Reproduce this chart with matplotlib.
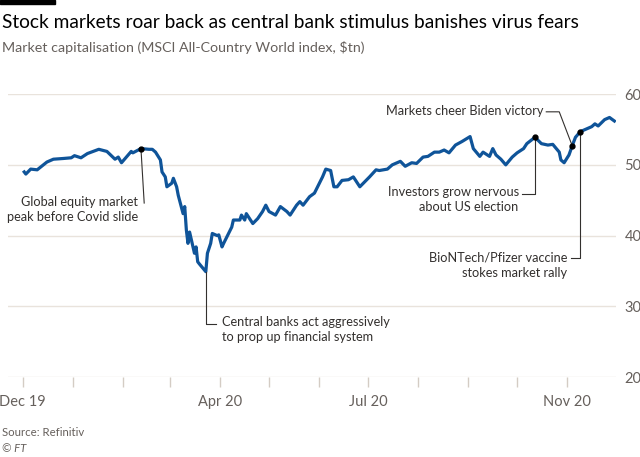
"""
FT style line chart - MSCI ACWI market capitalisation 2020
"""
import matplotlib
matplotlib.use('Agg')
import matplotlib.pyplot as plt
import pandas as pd

# ── Data ──
dates = [
    '2019-12-02', '2019-12-03', '2019-12-06', '2019-12-10', '2019-12-16', '2019-12-20',
    '2019-12-26', '2019-12-31', '2020-01-02', '2020-01-06', '2020-01-10', '2020-01-17',
    '2020-01-22', '2020-01-27', '2020-01-29', '2020-01-31', '2020-02-03', '2020-02-06',
    '2020-02-07', '2020-02-12', '2020-02-17', '2020-02-19', '2020-02-21', '2020-02-24',
    '2020-02-25', '2020-02-27', '2020-02-28', '2020-03-02', '2020-03-03', '2020-03-05',
    '2020-03-06', '2020-03-09', '2020-03-10', '2020-03-11', '2020-03-12', '2020-03-13',
    '2020-03-16', '2020-03-17', '2020-03-18', '2020-03-19', '2020-03-23', '2020-03-24',
    '2020-03-26', '2020-03-27', '2020-03-30', '2020-03-31', '2020-04-02', '2020-04-03',
    '2020-04-06', '2020-04-08', '2020-04-09', '2020-04-13', '2020-04-14', '2020-04-16',
    '2020-04-17', '2020-04-21', '2020-04-24', '2020-04-27', '2020-04-29', '2020-05-01',
    '2020-05-05', '2020-05-08', '2020-05-12', '2020-05-14', '2020-05-18', '2020-05-20',
    '2020-05-22', '2020-05-26', '2020-05-29', '2020-06-01', '2020-06-03', '2020-06-05',
    '2020-06-08', '2020-06-10', '2020-06-12', '2020-06-15', '2020-06-19', '2020-06-22',
    '2020-06-24', '2020-06-26', '2020-06-29', '2020-07-02', '2020-07-06', '2020-07-08',
    '2020-07-13', '2020-07-16', '2020-07-20', '2020-07-21', '2020-07-24', '2020-07-28',
    '2020-07-31', '2020-08-04', '2020-08-07', '2020-08-11', '2020-08-14', '2020-08-17',
    '2020-08-20', '2020-08-24', '2020-08-28', '2020-09-02', '2020-09-04', '2020-09-08',
    '2020-09-10', '2020-09-14', '2020-09-16', '2020-09-18', '2020-09-21', '2020-09-24',
    '2020-09-28', '2020-10-01', '2020-10-05', '2020-10-07', '2020-10-12', '2020-10-16',
    '2020-10-20', '2020-10-23', '2020-10-27', '2020-10-28', '2020-10-30', '2020-11-02',
    '2020-11-04', '2020-11-06', '2020-11-09', '2020-11-12', '2020-11-16', '2020-11-18',
    '2020-11-20', '2020-11-24', '2020-11-27', '2020-11-30',
]
mcap = [
    49.0, 48.7, 49.4, 49.3, 50.4, 50.8,
    50.9, 51.0, 51.3, 51.0, 51.6, 52.2,
    51.9, 50.8, 51.1, 50.3, 51.1, 51.9,
    51.7, 52.3, 52.2, 52.2, 51.8, 50.7,
    49.0, 48.3, 46.9, 47.4, 48.1, 46.9,
    45.7, 43.1, 44.1, 40.8, 38.9, 40.5,
    37.5, 38.4, 36.3, 36.0, 34.9, 37.5,
    38.9, 40.3, 40.0, 40.1, 38.4, 38.9,
    40.3, 41.2, 42.2, 42.2, 42.9, 42.2,
    43.1, 41.7, 42.4, 43.4, 44.3, 43.4,
    42.9, 44.1, 43.4, 42.9, 44.3, 44.8,
    44.3, 45.5, 46.0, 47.4, 48.3, 49.4,
    49.2, 46.9, 46.9, 47.8, 47.9, 48.3,
    47.6, 46.9, 47.6, 48.3, 49.3, 49.2,
    49.4, 50.0, 50.4, 50.5, 49.8, 50.3,
    50.2, 51.1, 51.2, 51.8, 51.8, 52.1,
    51.7, 52.8, 53.3, 54.0, 52.3, 51.2,
    51.8, 51.2, 52.3, 51.4, 50.8, 50.0,
    51.1, 51.7, 52.3, 53.0, 53.9, 53.0,
    52.8, 52.9, 51.8, 50.7, 50.3, 51.4,
    52.7, 53.9, 54.7, 55.0, 55.4, 55.8,
    55.5, 56.4, 56.7, 56.2,
]

yticks = [20, 30, 40, 50, 60]
tick_months = pd.date_range('2019-12-01', '2020-11-01', freq='MS')
label_months = {'2019-12': 'Dec 19', '2020-04': 'Apr 20', '2020-07': 'Jul 20', '2020-11': 'Nov 20'}

# event dates for the annotations
ev_peak = '2020-02-12'
ev_trough = '2020-03-23'
ev_nervous = '2020-10-12'
ev_biden = '2020-11-04'
ev_vaccine = '2020-11-09'

s = pd.Series(mcap, index=pd.to_datetime(dates))

# ── Style ──
plt.rcParams['font.family'] = ['Lato', 'DejaVu Sans']
BLUE = '#0f5499'
GRID = '#e9e3dc'
TXT = '#33302e'
GREY = '#66605c'

fig = plt.figure(figsize=(6.4, 4.57), dpi=100)
fig.patch.set_facecolor('white')
ax = fig.add_axes([0.0125, 0.175, 0.95, 0.619])

ax.plot(s.index, s.values, color=BLUE, lw=2.3, solid_joinstyle='round', zorder=3)

ax.set_xlim(pd.Timestamp('2019-11-22'), pd.Timestamp('2020-12-01'))
ax.set_ylim(20, 60)

ax.set_yticks(yticks)
ax.yaxis.tick_right()
ax.tick_params(axis='y', length=0, pad=6, labelsize=10.5, labelcolor=GREY)
ax.grid(axis='y', color=GRID, lw=1.0, zorder=0)

ax.set_xticks(tick_months)
ax.set_xticklabels([label_months.get(d.strftime('%Y-%m'), '') for d in tick_months])
ax.tick_params(axis='x', length=7, width=1, color='#d4ccc4', pad=6,
               labelsize=10.5, labelcolor=GREY)
for sp in ax.spines.values():
    sp.set_visible(False)

# ── Annotations ──
ann_kw = dict(fontsize=9.2, color=TXT, linespacing=1.3)
lk = dict(color=TXT, lw=0.8, zorder=4)
T = pd.Timestamp

def dot(d):
    ax.plot(T(d), s[T(d)], 'o', color='black', ms=3.5, zorder=5)

# peak
dot(ev_peak)
ax.plot([T(ev_peak), T('2020-02-14')], [s[T(ev_peak)], 44.6], **lk)
ax.text(T('2020-02-10'), 43.7, 'Global equity market\npeak before Covid slide',
        ha='right', va='center', **ann_kw)

# trough
ax.plot([T(ev_trough), T(ev_trough), T('2020-03-29')],
        [s[T(ev_trough)], 27.5, 27.5], **lk)
ax.text(T('2020-04-02'), 26.7, 'Central banks act aggressively\nto prop up financial system',
        ha='left', va='center', **ann_kw)

# US election nerves
dot(ev_nervous)
ax.plot([T(ev_nervous), T(ev_nervous), T('2020-10-04')],
        [s[T(ev_nervous)], 45.95, 45.95], **lk)
ax.text(T('2020-10-02'), 45.05, 'Investors grow nervous\nabout US election',
        ha='right', va='center', **ann_kw)

# Biden
dot(ev_biden)
ax.plot([T(ev_biden), T('2020-10-27'), T('2020-10-19')],
        [s[T(ev_biden)], 57.5, 57.5], **lk)
ax.text(T('2020-10-17'), 57.55, 'Markets cheer Biden victory',
        ha='right', va='center', **ann_kw)

# vaccine
dot(ev_vaccine)
ax.plot([T(ev_vaccine), T(ev_vaccine), T('2020-11-03')],
        [s[T(ev_vaccine)], 36.9, 36.9], **lk)
ax.text(T('2020-11-01'), 35.8, 'BioNTech/Pfizer vaccine\nstokes market rally',
        ha='right', va='center', **ann_kw)

# ── Titles & footer ──
fig.patches.append(plt.Rectangle((0, 1 - 4 / 457), 55 / 640, 4 / 457,
                                 transform=fig.transFigure, color='black'))
fig.text(0.003, 1 - 22 / 457, 'Stock markets roar back as central bank stimulus banishes virus fears',
         fontsize=13.8, color='black', va='center', ha='left')
fig.text(0.003, 1 - 47 / 457, 'Market capitalisation (MSCI All-Country World index, $tn)',
         fontsize=10.3, color=GREY, va='center', ha='left')
fig.text(0.003, 1 - 433 / 457, 'Source: Refinitiv', fontsize=8.2, color=GREY,
         va='center', ha='left')
fig.text(0.003, 1 - 449 / 457, '© FT', fontsize=8.2, color=GREY, style='italic',
         va='center', ha='left')

fig.savefig('out.png', dpi=100, facecolor='white')
